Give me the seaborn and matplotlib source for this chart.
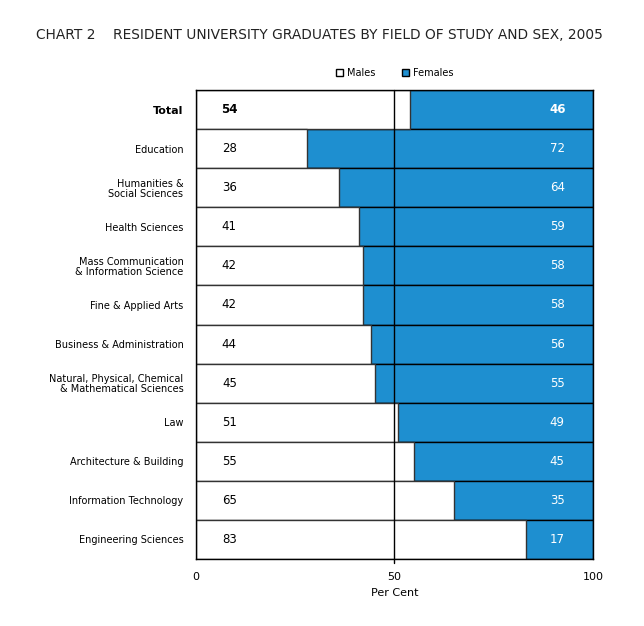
import pandas as pd
import numpy as np
import matplotlib
matplotlib.use("Agg")
import matplotlib.pyplot as plt
import seaborn as sns
from matplotlib.patches import Patch

fields = ["Total", "Education", "Humanities &\nSocial Sciences", "Health Sciences",
          "Mass Communication\n& Information Science", "Fine & Applied Arts",
          "Business & Administration", "Natural, Physical, Chemical\n& Mathematical Sciences",
          "Law", "Architecture & Building", "Information Technology", "Engineering Sciences"]
males = [54, 28, 36, 41, 42, 42, 44, 45, 51, 55, 65, 83]
females = [46, 72, 64, 59, 58, 58, 56, 55, 49, 45, 35, 17]

df = pd.DataFrame({"field": fields, "males": males, "females": females})
df["total"] = df["males"] + df["females"]

BLUE = "#1e8fd0"

sns.set_style("white")
plt.rcParams["font.family"] = ["DejaVu Sans"]
plt.rcParams["text.color"] = "black"
plt.rcParams["xtick.color"] = "black"
plt.rcParams["ytick.color"] = "black"
plt.rcParams["axes.labelcolor"] = "black"

fig = plt.figure(figsize=(6.44, 6.26), dpi=100)
ax = fig.add_axes([0.3043, 0.107, 0.6165, 0.7492])

# females drawn as full stack, males on top
sns.barplot(data=df, x="total", y="field", orient="h", color=BLUE, saturation=1,
            width=1.0, edgecolor="black", linewidth=1.0, ax=ax)
sns.barplot(data=df, x="males", y="field", orient="h", color="white", saturation=1,
            width=1.0, edgecolor="#333333", linewidth=1.0, ax=ax)

ax.set_xlim(0, 100)
ax.set_ylim(len(fields) - 0.5, -0.5)
ax.plot([50, 50], [len(fields) - 0.5 + 0.1, -0.5], color="black", lw=1.0,
        clip_on=False, zorder=5)

for i, (m, f) in enumerate(zip(males, females)):
    w = "bold" if i == 0 else "normal"
    ax.text(8.4, i, str(m), ha="center", va="center", fontsize=8.5, color="black", fontweight=w)
    ax.text(91, i, str(f), ha="center", va="center", fontsize=8.5, color="white", fontweight=w)

ax.set_xticks([0, 50, 100])
ax.set_xticklabels(["0", "50", "100"], fontsize=8)
ax.tick_params(axis="x", length=0, pad=9)
ax.tick_params(axis="y", length=0, pad=9)
ax.set_yticks(range(len(fields)))
ax.set_yticklabels(fields, fontsize=7, linespacing=1.0)
ax.get_yticklabels()[0].set_fontweight("bold")
ax.get_yticklabels()[0].set_fontsize(8)
ax.set_xlabel("Per Cent", fontsize=8, labelpad=5)
ax.set_ylabel("")
for s in ax.spines.values():
    s.set_visible(True)
    s.set_color("black")
    s.set_linewidth(1.0)

fig.text(0.056, 0.944, "CHART 2    RESIDENT UNIVERSITY GRADUATES BY FIELD OF STUDY AND SEX, 2005",
         fontsize=9.9, ha="left", va="center", color="#222222")

handles = [Patch(facecolor="white", edgecolor="black", label="Males"),
           Patch(facecolor=BLUE, edgecolor="black", label="Females")]
fig.legend(handles=handles, loc="center", bbox_to_anchor=(0.613, 0.884), ncol=2,
           frameon=False, fontsize=7, handlelength=0.7, handleheight=0.7,
           handletextpad=0.4, columnspacing=2.8)

fig.savefig("out.png", dpi=100)
